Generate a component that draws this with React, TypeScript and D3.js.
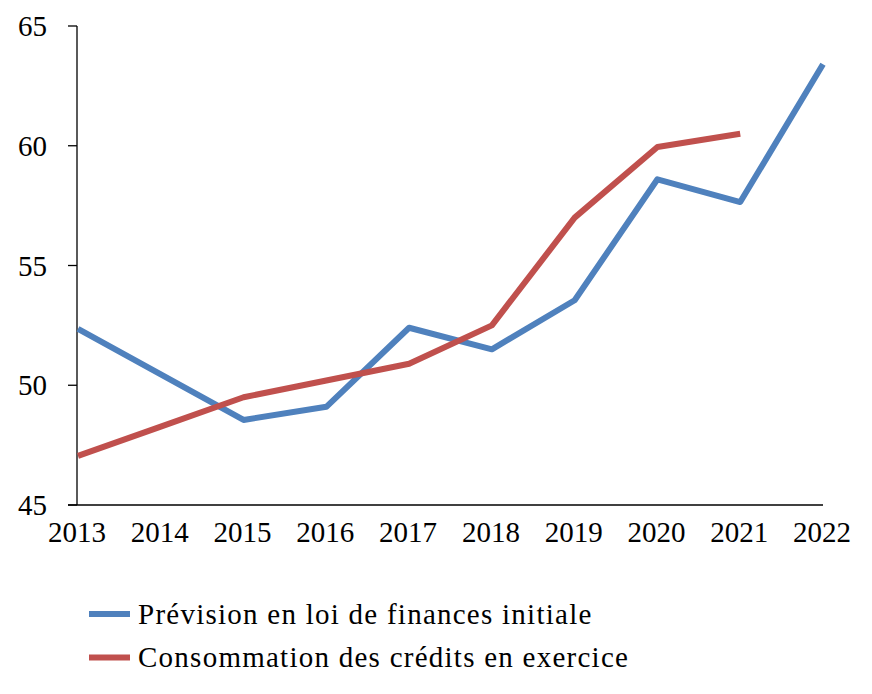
import React from "react";
import * as d3 from "d3";

const years = ["2013", "2014", "2015", "2016", "2017", "2018", "2019", "2020", "2021", "2022"];
const prevision = [52.35, 50.45, 48.55, 49.1, 52.4, 51.5, 53.55, 58.6, 57.65, 63.4];
const consommation = [47.05, 48.27, 49.5, 50.2, 50.9, 52.5, 57.0, 59.95, 60.5];
const yTicks = [45, 50, 55, 60, 65];
const seriesNames = ["Prévision en loi de finances initiale", "Consommation des crédits en exercice"];
const colors = ["#4F81BD", "#C0504D"];

export default function App() {
  const W = 872, H = 694;
  const x = d3.scalePoint<string>().domain(years).range([78, 823]);
  const y = d3.scaleLinear().domain([45, 65]).range([505, 26]);
  const line = d3.line<number>().x((_, i) => x(years[i]) as number).y((d) => y(d));
  const font = "'Liberation Serif', 'Times New Roman', serif";
  const series = [prevision, consommation];
  return (
    <svg width={W} height={H} style={{ position: "absolute", left: 0, top: 0, background: "#fff" }} fontFamily={font}>
      {/* y axis */}
      <line x1={77} x2={77} y1={y(65)} y2={y(45)} stroke="#000" strokeWidth={1.3} />
      {yTicks.map((t) => (
        <g key={t}>
          <line x1={68} x2={77} y1={y(t)} y2={y(t)} stroke="#000" strokeWidth={1.3} />
          <text x={47} y={y(t)} dy="0.35em" textAnchor="end" fontSize={29} fill="#000">{t}</text>
        </g>
      ))}
      {/* x axis */}
      <line x1={68} x2={823} y1={y(45)} y2={y(45)} stroke="#000" strokeWidth={1.3} />
      {years.map((yr) => (
        <text key={yr} x={(x(yr) as number) - 1} y={542} textAnchor="middle" fontSize={29} fill="#000">{yr}</text>
      ))}
      {series.map((s, i) => (
        <path key={i} d={line(s) || ""} fill="none" stroke={colors[i]} strokeWidth={6} strokeLinejoin="round" />
      ))}
      {seriesNames.map((n, i) => (
        <g key={n}>
          <line x1={89} x2={130} y1={614 + i * 43.5} y2={614 + i * 43.5} stroke={colors[i]} strokeWidth={6} />
          <text x={138} y={624 + i * 43} fontSize={29} letterSpacing={1.25} fill="#000">{n}</text>
        </g>
      ))}
    </svg>
  );
}
